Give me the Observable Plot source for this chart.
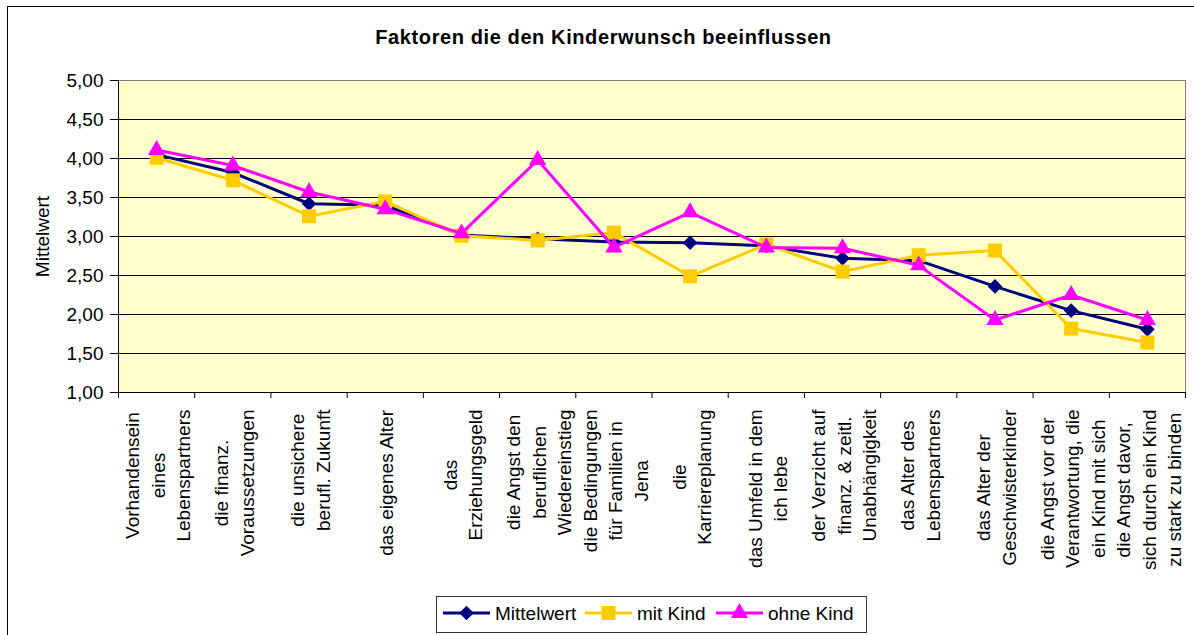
<!DOCTYPE html>
<html><head><meta charset="utf-8">
<script src="https://cdn.jsdelivr.net/npm/d3@7"></script>
<script src="https://cdn.jsdelivr.net/npm/@observablehq/plot@0.6"></script>
<style>
body{margin:0;background:#fff;}
#chart{position:relative;width:1194px;height:635px;overflow:hidden;font-family:"Liberation Sans",Arial,sans-serif;background:#fff;}
#chart svg{position:absolute;left:0;top:0;}
</style>
</head><body>
<div id="chart"></div>
<script>
// ---- data ----
const title = "Faktoren die den Kinderwunsch beeinflussen";
const categories = [
  ["Vorhandensein", "eines", "Lebenspartners"],
  ["die finanz.", "Voraussetzungen"],
  ["die unsichere", "berufl. Zukunft"],
  ["das eigenes Alter"],
  ["das", "Erziehungsgeld"],
  ["die Angst den", "beruflichen", "Wiedereinstieg"],
  ["die Bedingungen", "für Familien in", "Jena"],
  ["die", "Karriereplanung"],
  ["das Umfeld in dem", "ich lebe"],
  ["der Verzicht auf", "finanz. & zeitl.", "Unabhängigkeit"],
  ["das Alter des", "Lebenspartners"],
  ["das Alter der", "Geschwisterkinder"],
  ["die Angst vor der", "Verantwortung, die", "ein Kind mit sich"],
  ["die Angst davor,", "sich durch ein Kind", "zu stark zu binden"]
];
const seriesNames = ["Mittelwert", "mit Kind", "ohne Kind"];
const mittelwert = [4.05, 3.82, 3.42, 3.40, 3.02, 2.97, 2.93, 2.92, 2.88, 2.72, 2.69, 2.36, 2.05, 1.81];
const mitKind    = [4.01, 3.72, 3.26, 3.45, 3.01, 2.95, 3.05, 2.49, 2.90, 2.55, 2.76, 2.82, 1.82, 1.64];
const ohneKind   = [4.11, 3.91, 3.57, 3.35, 3.04, 3.98, 2.86, 3.31, 2.86, 2.85, 2.63, 1.93, 2.25, 1.93];
const yTicks = [1, 1.5, 2, 2.5, 3, 3.5, 4, 4.5, 5];
const yLabel = "Mittelwert";

// ---- styles ----
const colors = ["#000080", "#FFCC00", "#FF00FF"];
const symbols = ["diamond2", "square", "triangle"];
const radii = [6.6, 7.9, 6.4];
const FONT = "Liberation Sans, Arial, sans-serif";

const seriesValues = [mittelwert, mitKind, ohneKind];
const rows = seriesValues.map((vals, s) => vals.map((v, i) => ({x: i + 0.5, y: v, s})));

// measure label lengths for centering multi-line rotated labels
const ctx = document.createElement("canvas").getContext("2d");
ctx.font = "19px 'Liberation Sans'";
const maxLen = categories.map(lines => Math.max(...lines.map(l => ctx.measureText(l).width)));

const labelMarks = categories.map((lines, i) => Plot.text([i], {
  x: d => d + 0.5,
  frameAnchor: "bottom",
  text: () => lines.join("\n"),
  rotate: -90,
  textAnchor: "middle",
  lineAnchor: "middle",
  lineHeight: 25.5 / 19,
  fontSize: 19,
  fill: "#000",
  dy: 17 + maxLen[i] / 2
}));

const seriesMarks = [];
rows.forEach((data, s) => {
  seriesMarks.push(Plot.line(data, {x: "x", y: "y", stroke: colors[s], strokeWidth: 3, strokeLinejoin: "round"}));
  seriesMarks.push(Plot.dot(data, {x: "x", y: "y", symbol: symbols[s], fill: colors[s], r: radii[s], stroke: "none"}));
});

const plot = Plot.plot({
  width: 1194,
  height: 635,
  marginLeft: 118,
  marginRight: 9,
  marginTop: 80,
  marginBottom: 243,
  style: {fontFamily: FONT, fontSize: "19px", background: "transparent", color: "#000", overflow: "visible"},
  x: {domain: [0, categories.length]},
  y: {domain: [1, 5]},
  marks: [
    Plot.frame({fill: "#FFFFCC", stroke: "#808080"}),
    Plot.ruleY(yTicks.slice(1, -1), {stroke: "#000", strokeWidth: 1}),
    Plot.axisY({ticks: yTicks, tickFormat: d => d.toFixed(2).replace(".", ","), tickSize: 8, tickPadding: 7, label: null, fontSize: 19, stroke: "#000"}),
    Plot.axisX({ticks: d3.range(0, categories.length + 1), tickFormat: () => "", tickSize: 6, label: null, stroke: "#000"}),
    Plot.ruleX([0], {stroke: "#000"}),
    Plot.ruleY([1], {stroke: "#000"}),
    ...seriesMarks,
    ...labelMarks,
    Plot.text([yLabel], {frameAnchor: "left", text: d => d, rotate: -90, dx: -76, fontSize: 19, fill: "#000", textAnchor: "middle"})
  ]
});
const chart = document.getElementById("chart");
chart.appendChild(plot);

// ---- overlay: outer frame, title, legend ----
const ov = d3.select(chart).append("svg").attr("width", 1194).attr("height", 635).style("pointer-events", "none");
ov.append("rect").attr("x", 7.5).attr("y", 6.5).attr("width", 1220).attr("height", 700)
  .attr("fill", "none").attr("stroke", "#000");
ov.append("text").attr("x", 603.5).attr("y", 44).attr("text-anchor", "middle")
  .attr("font-family", FONT).attr("font-size", 20).attr("font-weight", "bold")
  .attr("letter-spacing", 0.6).text(title);

const lg = ov.append("g");
lg.append("rect").attr("x", 436.5).attr("y", 596.5).attr("width", 430).attr("height", 36)
  .attr("fill", "#fff").attr("stroke", "#333");
const legendX = [443, 585, 716];
const d3sym = {diamond2: d3.symbolDiamond2, square: d3.symbolSquare, triangle: d3.symbolTriangle};
seriesNames.forEach((name, s) => {
  const x0 = legendX[s];
  lg.append("line").attr("x1", x0).attr("x2", x0 + 47).attr("y1", 613).attr("y2", 613)
    .attr("stroke", colors[s]).attr("stroke-width", 3);
  lg.append("path").attr("transform", `translate(${x0 + 23.5},613)`)
    .attr("d", d3.symbol(d3sym[symbols[s]], radii[s] * radii[s] * Math.PI)())
    .attr("fill", colors[s]);
  lg.append("text").attr("x", x0 + 52).attr("y", 619.5)
    .attr("font-family", FONT).attr("font-size", 19).attr("fill", "#000").text(name);
});
</script>
</body></html>
